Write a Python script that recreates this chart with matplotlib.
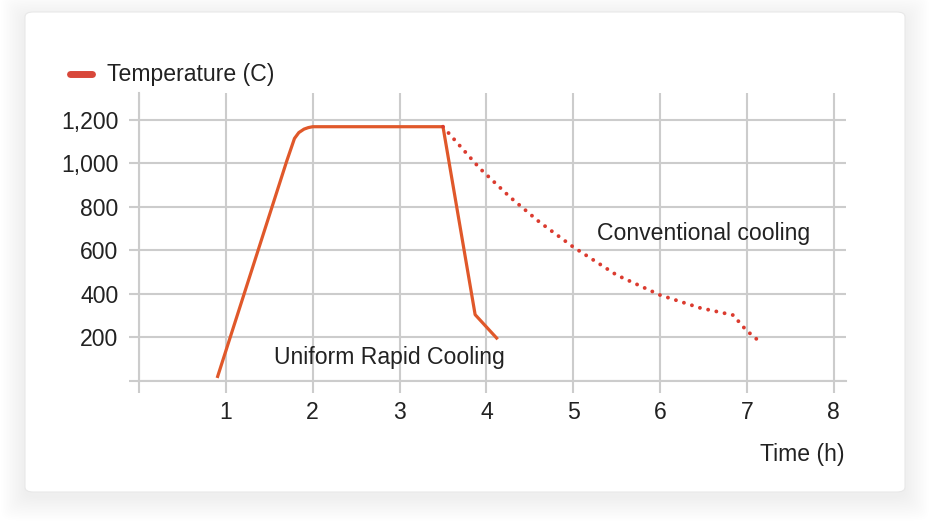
import matplotlib
matplotlib.use('Agg')
import matplotlib.pyplot as plt
from matplotlib.patches import FancyBboxPatch
from matplotlib.lines import Line2D

plt.rcParams['font.family'] = ['Liberation Sans', 'DejaVu Sans']

# rapid cooling curve (solid)
rapid_time = [0.90, 1.70, 1.79, 1.84, 1.90, 1.95, 2.00, 3.50, 3.87, 4.13]
rapid_temp = [14, 1010, 1115, 1142, 1158, 1165, 1169, 1169, 305, 192]

# conventional cooling curve (dotted)
conv_time = [3.50, 3.92, 4.27, 4.61, 5.00, 5.50, 6.00, 6.46, 6.84, 6.99, 7.11]
conv_temp = [1169, 979, 846, 731, 616, 487, 395, 336, 303, 234, 193]

x_ticks = [0, 1, 2, 3, 4, 5, 6, 7, 8]
x_labels = ['', '1', '2', '3', '4', '5', '6', '7', '8']
y_ticks = [0, 200, 400, 600, 800, 1000, 1200]
y_labels = ['', '200', '400', '600', '800', '1,000', '1,200']

W, H = 930, 531
FS = 16.6
TXT = '#222222'
fig = plt.figure(figsize=(W / 100, H / 100), dpi=100)
fig.patch.set_facecolor('white')

# card with soft shadow
for i in range(16):
    grow = 1 + i * 1.5
    sh = FancyBboxPatch(((25 - grow) / W, (H - 492 - grow - 5) / H),
                        (880 + grow * 2) / W, (480 + grow * 2) / H,
                        boxstyle='round,pad=0,rounding_size=0.015',
                        transform=fig.transFigure, facecolor='#000000',
                        edgecolor='none', alpha=0.004, zorder=-3)
    fig.patches.append(sh)
card = FancyBboxPatch((25 / W, (H - 492) / H), 880 / W, 480 / H,
                      boxstyle='round,pad=0,rounding_size=0.009',
                      transform=fig.transFigure, facecolor='white',
                      edgecolor='#e8e8e8', linewidth=0.8, zorder=-2)
fig.patches.append(card)

ax = fig.add_axes([139 / W, (H - 381) / H, 707 / W, 288 / H])
ax.set_zorder(2)
ax.set_facecolor('none')
ax.set_xlim(0, 8.14)
ax.set_ylim(0, 1324)

grid_c = '#cccccc'
ax.set_xticks(x_ticks)
ax.set_xticklabels(x_labels)
ax.set_yticks(y_ticks)
ax.set_yticklabels(y_labels)
ax.grid(True, color=grid_c, linewidth=1.5)
ax.set_axisbelow(True)
for s in ['top', 'right']:
    ax.spines[s].set_visible(False)
for s in ['left', 'bottom']:
    ax.spines[s].set_color(grid_c)
    ax.spines[s].set_linewidth(1.5)
ax.tick_params(axis='x', length=8.6, width=1.5, color=grid_c, pad=5.5,
               labelsize=FS, labelcolor=TXT)
ax.tick_params(axis='y', length=7.2, width=1.5, color=grid_c, pad=7.5,
               labelsize=FS, labelcolor=TXT)

ax.plot(rapid_time, rapid_temp, color='#e0582a', linewidth=2.3,
        solid_joinstyle='round', solid_capstyle='butt', zorder=3)
ax.plot(conv_time, conv_temp, color='#db3b2f', linewidth=2.8,
        linestyle=(0, (0.01, 2.15)), dash_capstyle='round', zorder=3)

ax.text(1.553, 106, 'Uniform Rapid Cooling', fontsize=FS, color=TXT,
        ha='left', va='center')
ax.text(5.27, 680, 'Conventional cooling', fontsize=FS, color=TXT,
        ha='left', va='center')

fig.text(844 / W, 1 - 454 / H, 'Time (h)', fontsize=FS, color=TXT,
         ha='right', va='center')

# legend
fig.lines.append(Line2D([69.5 / W, 91.5 / W], [1 - 74 / H, 1 - 74 / H],
                        transform=fig.transFigure, color='#d8473a',
                        linewidth=5, solid_capstyle='round'))
fig.text(107 / W, 1 - 74 / H, 'Temperature (C)', fontsize=FS,
         color=TXT, ha='left', va='center')

fig.savefig('out.png', dpi=100)
